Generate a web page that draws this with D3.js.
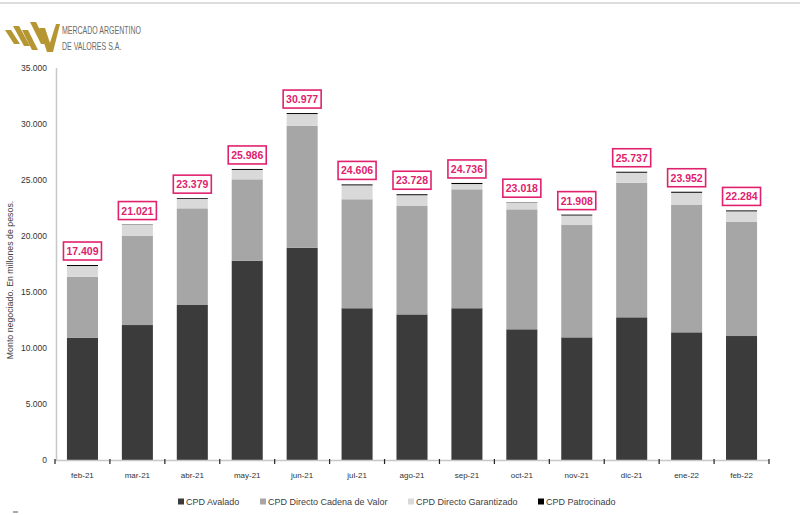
<!DOCTYPE html>
<html><head><meta charset="utf-8">
<script src="https://cdn.jsdelivr.net/npm/d3@7"></script>
<style>body{margin:0;background:#fff}svg{display:block}</style>
</head><body>
<svg id="c" width="800" height="515"></svg>
<script>
const categories = ["feb-21","mar-21","abr-21","may-21","jun-21","jul-21","ago-21","sep-21","oct-21","nov-21","dic-21","ene-22","feb-22"];
const avalado      = [10900,12050,13840,17800,18950,13550,13000,13550,11670,10950,12740,11400,11070];
const cadenaValor  = [5460, 7980, 8630, 7260,10900, 9730, 9680,10620,10710,10030,12020,11370,10210];
const garantizado  = [960,  960,  840,  840, 1040, 1240,  960,  470,  610,  850,  890, 1090,  920];
const patrocinado  = [89,   31,   69,   86,   87,   86,   88,   96,   28,   78,   87,   92,   84];
const totals       = [17409,21021,23379,25986,30977,24606,23728,24736,23018,21908,25737,23952,22284];
const seriesNames  = ["CPD Avalado","CPD Directo Cadena de Valor","CPD Directo Garantizado","CPD Patrocinado"];
const yTicks       = [0,5000,10000,15000,20000,25000,30000,35000];
const colors       = ["#3b3b3b","#a6a6a6","#d9d9d9","#000000"];

const svg = d3.select("#c");
const fmt = d3.formatLocale({decimal:",",thousands:".",grouping:[3],currency:["$",""]}).format(",d");

// top border line
svg.append("line").attr("x1",0).attr("x2",800).attr("y1",3).attr("y2",3).attr("stroke","#dcdcdc").attr("stroke-width",2);

// logo
const logo = svg.append("g").attr("fill","#b59632");
[[5,30,11,30,20,44,14,44],[13,26,19,26,30,46,24,46],[22,30,28,30,38,50,32,50],[30,22,36,22,47,44,41,44],[39,28,45,28,53,52,47,52]].forEach(p=>{
  logo.append("polygon").attr("points",[[p[0],p[1]],[p[2],p[3]],[p[4],p[5]],[p[6],p[7]]].map(d=>d.join(",")).join(" "));
});
logo.append("polygon").attr("points","47,52 53,52 60,24 56,24");
svg.append("text").attr("transform","translate(62,34) scale(0.7,1)").text("MERCADO ARGENTINO").attr("font-family","Liberation Sans, sans-serif").attr("font-size",10).attr("fill","#6b6b6b");
svg.append("text").attr("transform","translate(62,50) scale(0.7,1)").text("DE VALORES S.A.").attr("font-family","Liberation Sans, sans-serif").attr("font-size",10).attr("fill","#6b6b6b");

const x = d3.scaleBand().domain(categories).range([55,769]).paddingInner(0.435).paddingOuter(0.2175);
const y = d3.scaleLinear().domain([0,35000]).range([460,68]);

// y axis
svg.append("line").attr("x1",56.5).attr("x2",56.5).attr("y1",68).attr("y2",460).attr("stroke","#c8c8c8").attr("stroke-width",1.5);
svg.append("g").selectAll("text").data(yTicks).join("text")
  .attr("x",47).attr("y",d=>y(d)+3).attr("text-anchor","end")
  .attr("font-family","Liberation Sans, sans-serif").attr("font-size",8.5).attr("fill","#333")
  .text(d=>fmt(d));

// stacked bars
const rows = categories.map((c,i)=>({cat:c, a:avalado[i], b:cadenaValor[i], g:garantizado[i], p:patrocinado[i]}));
const stack = d3.stack().keys(["a","b","g","p"])(rows);
svg.append("g").selectAll("g").data(stack).join("g").attr("fill",(d,i)=>colors[i])
  .selectAll("rect").data(d=>d).join("rect")
  .attr("x",d=>x(d.data.cat)).attr("width",x.bandwidth())
  .attr("y",d=>y(d[1])).attr("height",d=>y(d[0])-y(d[1]));

// x axis
svg.append("line").attr("x1",55).attr("x2",769).attr("y1",460.5).attr("y2",460.5).attr("stroke","#c8c8c8").attr("stroke-width",1.5);
const edges = categories.map(c=>x(c)-x.step()*x.paddingInner()/2).concat([769]);
svg.append("g").selectAll("line").data(edges).join("line")
  .attr("x1",d=>d).attr("x2",d=>d).attr("y1",459).attr("y2",464).attr("stroke","#222").attr("stroke-width",1.2);
svg.append("g").selectAll("text").data(categories).join("text")
  .attr("x",d=>x(d)+x.bandwidth()/2).attr("y",478).attr("text-anchor","middle")
  .attr("font-family","Liberation Sans, sans-serif").attr("font-size",8).attr("fill","#333").text(d=>d);

// total labels
const lab = svg.append("g").selectAll("g").data(categories).join("g")
  .attr("transform",(d,i)=>`translate(${x(d)+x.bandwidth()/2},${y(totals[i])-4})`);
lab.append("rect").attr("x",-19).attr("y",-19).attr("width",38).attr("height",18)
  .attr("fill","#fff").attr("stroke","#e0226e").attr("stroke-width",1.6);
lab.append("text").attr("y",-6).attr("text-anchor","middle")
  .attr("font-family","Liberation Sans, sans-serif").attr("font-size",10.5).attr("font-weight","bold")
  .attr("fill","#e0226e").text((d,i)=>fmt(totals[i]));

// y title
svg.append("text").attr("transform","translate(13,280) rotate(-90)").attr("text-anchor","middle")
  .attr("font-family","Liberation Sans, sans-serif").attr("font-size",8.8).attr("fill","#404040")
  .text("Monto negociado. En millones de pesos.");

// legend
const legX = [178,260,408,538];
const leg = svg.append("g").selectAll("g").data(seriesNames).join("g").attr("transform",(d,i)=>`translate(${legX[i]},502)`);
leg.append("rect").attr("x",0).attr("y",-3.5).attr("width",6).attr("height",6).attr("fill",(d,i)=>colors[i]);
leg.append("text").attr("x",8).attr("y",3).attr("font-family","Liberation Sans, sans-serif").attr("font-size",9).attr("fill","#404040").text(d=>d);

svg.append("line").attr("x1",13).attr("x2",18).attr("y1",512).attr("y2",512).attr("stroke","#555").attr("stroke-width",1);
</script>
</body></html>
